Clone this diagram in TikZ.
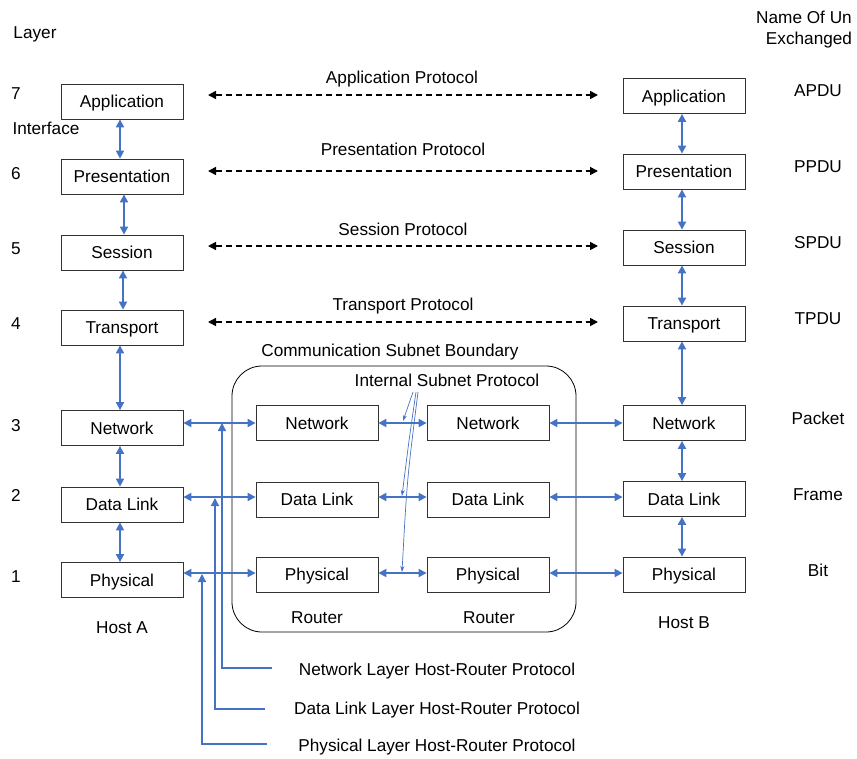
\documentclass[tikz,border=0pt]{standalone}
\usepackage{fontspec}
\setmainfont{Liberation Sans}
\usetikzlibrary{arrows.meta,calc}
\definecolor{ablue}{HTML}{4472C4}
\begin{document}
\begin{tikzpicture}[x=1pt,y=-1pt,
  every node/.style={font=\fontsize{17.2}{20}\selectfont},
  lay/.style={draw=black!80,line width=0.8pt,minimum width=122pt,minimum height=35pt,inner sep=0pt,text height=13pt,text depth=1pt},
  txt/.style={inner sep=0pt,anchor=center,text height=13pt,text depth=1pt},
  barrow/.style={draw=ablue,line width=1.8pt,{Triangle[length=8pt,width=8pt]}-{Triangle[length=8pt,width=8pt]}},
  barrowone/.style={draw=ablue,line width=1.4pt,-{Triangle[length=8pt,width=8pt]}},
  thinarrow/.style={draw=ablue,line width=0.7pt,-{Stealth[length=6pt,width=4pt]}},
  darrow/.style={draw=black,line width=1.6pt,dash pattern=on 6pt off 4pt,{Triangle[length=8pt,width=8pt]}-{Triangle[length=8pt,width=8pt]}}
]
\useasboundingbox (0,0) rectangle (857,758);

% subnet boundary
\node[draw=black,line width=0.8pt,rounded corners=30pt,minimum width=344pt,minimum height=266pt,inner sep=0pt] (bound) at (404,499) {};

% Host A
\node[lay] (a7) at (122,101.5) {Application};
\node[lay] (a6) at (122,176.5) {Presentation};
\node[lay] (a5) at (122,252.5) {Session};
\node[lay] (a4) at (122,327.5) {Transport};
\node[lay] (a3) at (122,428) {Network};
\node[lay] (a2) at (122,504.5) {Data Link};
\node[lay] (a1) at (122,580) {Physical};

% Host B
\node[lay] (b7) at (684,96) {Application};
\node[lay] (b6) at (684,171.5) {Presentation};
\node[lay] (b5) at (684,247.5) {Session};
\node[lay] (b4) at (684,323.5) {Transport};
\node[lay] (b3) at (684,423) {Network};
\node[lay] (b2) at (684,499) {Data Link};
\node[lay] (b1) at (684,574.5) {Physical};

% Routers
\node[lay] (r3) at (317,423) {Network};
\node[lay] (r2) at (317,499.5) {Data Link};
\node[lay] (r1) at (317,574.5) {Physical};
\node[lay] (s3) at (488,423) {Network};
\node[lay] (s2) at (488,499.5) {Data Link};
\node[lay] (s1) at (488,574.5) {Physical};

% labels
\node[txt] (layer) at (35,32) {Layer};
\node[txt] (n7) at (16,93) {7};
\node[txt] (n6) at (16,173) {6};
\node[txt] (n5) at (16,248) {5};
\node[txt] (n4) at (16,323) {4};
\node[txt] (n3) at (16,425) {3};
\node[txt] (n2) at (16,495) {2};
\node[txt] (n1) at (16,576) {1};
\node[txt] (intf) at (46,128) {Interface};
\node[txt] (hosta) at (122,627) {Host A};
\node[txt] (hostb) at (684,622) {Host B};
\node[txt] (rt1) at (317,617) {Router};
\node[txt] (rt2) at (489,617) {Router};

\node[txt] (nm1) at (804,17) {Name Of Un};
\node[txt] (nm2) at (809,38) {Exchanged};
\node[txt] (u7) at (818,90) {APDU};
\node[txt] (u6) at (818,166) {PPDU};
\node[txt] (u5) at (818,242) {SPDU};
\node[txt] (u4) at (818,318) {TPDU};
\node[txt] (u3) at (818,418) {Packet};
\node[txt] (u2) at (818,494) {Frame};
\node[txt] (u1) at (818,570) {Bit};

\node[txt] (p7) at (402,77) {Application Protocol};
\node[txt] (p6) at (403,149) {Presentation Protocol};
\node[txt] (p5) at (403,229) {Session Protocol};
\node[txt] (p4) at (403,304) {Transport Protocol};
\node[txt] (csb) at (390,350) {Communication Subnet Boundary};
\node[txt] (isp) at (447,380) {Internal Subnet Protocol};

\node[txt] (nlp) at (437,669) {Network Layer Host-Router Protocol};
\node[txt] (dlp) at (437,708) {Data Link Layer Host-Router Protocol};
\node[txt] (plp) at (437,745) {Physical Layer Host-Router Protocol};

% dashed peer protocols
\coordinate (d7l) at (208,95); \coordinate (d7r) at (598,95);
\coordinate (d6l) at (208,171); \coordinate (d6r) at (598,171);
\coordinate (d5l) at (208,246); \coordinate (d5r) at (598,246);
\coordinate (d4l) at (208,322); \coordinate (d4r) at (598,322);
\draw[darrow] (d7l) -- (d7r);
\draw[darrow] (d6l) -- (d6r);
\draw[darrow] (d5l) -- (d5r);
\draw[darrow] (d4l) -- (d4r);

% vertical interfaces Host A
\draw[barrow] ([xshift=-2pt]a7.south) -- ([xshift=-2pt]a6.north);
\draw[barrow] ([xshift=2pt]a6.south) -- ([xshift=2pt]a5.north);
\draw[barrow] ([xshift=1pt]a5.south) -- ([xshift=1pt]a4.north);
\draw[barrow] ([xshift=-2pt]a4.south) -- ([xshift=-2pt]a3.north);
\draw[barrow] ([xshift=-2pt]a3.south) -- ([xshift=-2pt]a2.north);
\draw[barrow] ([xshift=-2pt]a2.south) -- ([xshift=-2pt]a1.north);
% Host B
\draw[barrow] ([xshift=-2pt]b7.south) -- ([xshift=-2pt]b6.north);
\draw[barrow] ([xshift=-2pt]b6.south) -- ([xshift=-2pt]b5.north);
\draw[barrow] ([xshift=-2pt]b5.south) -- ([xshift=-2pt]b4.north);
\draw[barrow] ([xshift=-2pt]b4.south) -- ([xshift=-2pt]b3.north);
\draw[barrow] ([xshift=-2pt]b3.south) -- ([xshift=-2pt]b2.north);
\draw[barrow] ([xshift=-2pt]b2.south) -- ([xshift=-2pt]b1.north);

% horizontal links
\draw[barrow] (a3.east |- r3.west) -- (r3.west);
\draw[barrow] (a2.east |- 0,497) -- (r2.west |- 0,497);
\draw[barrow] (a1.east |- 0,573) -- (r1.west |- 0,573);
\draw[barrow] (r3.east) -- (s3.west);
\draw[barrow] (r2.east |- 0,497) -- (s2.west |- 0,497);
\draw[barrow] (r1.east |- 0,573) -- (s1.west |- 0,573);
\draw[barrow] (s3.east) -- (b3.west);
\draw[barrow] (s2.east |- 0,497) -- (b2.west |- 0,497);
\draw[barrow] (s1.east |- 0,573) -- (b1.west |- 0,573);

% host-router protocol leaders
\coordinate (ne) at (272,668); \coordinate (nt) at (222,423);
\coordinate (de) at (265,709); \coordinate (dt) at (215,498);
\coordinate (pe) at (267,744); \coordinate (pt) at (202,574);
\draw[barrowone] (ne) -| (nt);
\draw[barrowone] (de) -| (dt);
\draw[barrowone] (pe) -| (pt);

% internal subnet protocol
\coordinate (i0) at (413,392); \coordinate (i1) at (416,392); \coordinate (i2) at (418,392);
\coordinate (t3) at (403,421); \coordinate (t2) at (402,496); \coordinate (t1) at (402,572);
\draw[thinarrow] (i0) -- (t3);
\draw[thinarrow] (i1) .. controls (409,440) .. (t2);
\draw[thinarrow] (i2) .. controls (407,480) .. (t1);
\end{tikzpicture}
\end{document}
